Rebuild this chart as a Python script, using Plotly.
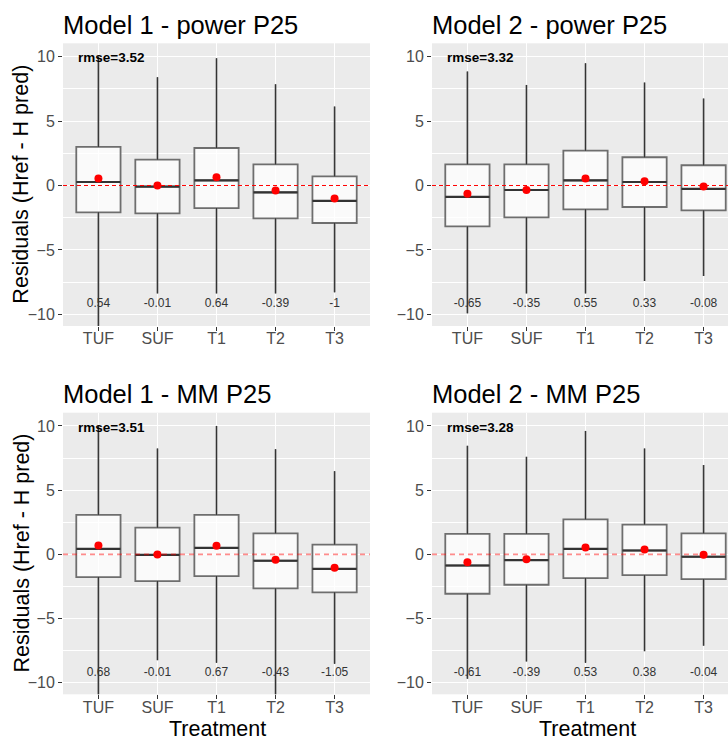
import plotly.graph_objects as go

# ---- data ------------------------------------------------------------------
treatments = ["TUF", "SUF", "T1", "T2", "T3"]

# Model 1 - power P25
m1_pow_hi = [10.0, 8.40, 9.87, 7.85, 6.12]
m1_pow_q3 = [2.99, 2.01, 2.91, 1.64, 0.71]
m1_pow_med = [0.27, -0.09, 0.40, -0.53, -1.20]
m1_pow_q1 = [-2.08, -2.16, -1.75, -2.55, -2.91]
m1_pow_lo = [-11.6, -8.37, -8.37, -8.37, -8.29]
m1_pow_mean = [0.54, -0.01, 0.64, -0.39, -1]
m1_pow_rmse = 3.52

# Model 2 - power P25
m2_pow_hi = [8.84, 7.80, 9.48, 7.98, 6.74]
m2_pow_q3 = [1.64, 1.64, 2.70, 2.19, 1.57]
m2_pow_med = [-0.89, -0.35, 0.40, 0.27, -0.27]
m2_pow_q1 = [-3.17, -2.47, -1.85, -1.67, -1.93]
m2_pow_lo = [-9.92, -8.37, -8.37, -7.41, -7.02]
m2_pow_mean = [-0.65, -0.35, 0.55, 0.33, -0.08]
m2_pow_rmse = 3.32

# Model 1 - MM P25
m1_mm_hi = [10.0, 8.24, 10.0, 8.19, 6.48]
m1_mm_q3 = [3.07, 2.08, 3.07, 1.64, 0.76]
m1_mm_med = [0.43, -0.04, 0.50, -0.50, -1.13]
m1_mm_q1 = [-1.77, -2.08, -1.69, -2.65, -2.96]
m1_mm_lo = [-11.6, -8.24, -8.45, -11.4, -8.53]
m1_mm_mean = [0.68, -0.01, 0.67, -0.43, -1.05]
m1_mm_rmse = 3.51

# Model 2 - MM P25
m2_mm_hi = [8.45, 7.59, 9.61, 8.24, 6.95]
m2_mm_q3 = [1.59, 1.59, 2.73, 2.32, 1.64]
m2_mm_med = [-0.87, -0.45, 0.43, 0.30, -0.19]
m2_mm_q1 = [-3.07, -2.37, -1.85, -1.62, -1.93]
m2_mm_lo = [-9.69, -8.34, -8.45, -7.54, -7.11]
m2_mm_mean = [-0.61, -0.39, 0.53, 0.38, -0.04]
m2_mm_rmse = 3.28

# ---- layout helpers (pixel geometry of the 728x738 page) -------------------
W, H = 728, 738
FONT = "Arial, Liberation Sans, sans-serif"
BOX_W = 0.75
pos = [1, 2, 3, 4, 5]


def px_x(p):
    return p / W


def px_y(p):
    return 1 - p / H


panels = [
    dict(title="Model 1 - power P25", hi=m1_pow_hi, q3=m1_pow_q3, med=m1_pow_med, q1=m1_pow_q1,
         lo=m1_pow_lo, mean=m1_pow_mean, rmse=m1_pow_rmse, left=63, right=370, top=43.3, bottom=326,
         title_y=24.5, zero=dict(color="red", width=1, dash="4px,3px")),
    dict(title="Model 2 - power P25", hi=m2_pow_hi, q3=m2_pow_q3, med=m2_pow_med, q1=m2_pow_q1,
         lo=m2_pow_lo, mean=m2_pow_mean, rmse=m2_pow_rmse, left=432, right=739, top=43.3, bottom=326,
         title_y=24.5, zero=dict(color="red", width=1, dash="4px,3px")),
    dict(title="Model 1 - MM P25", hi=m1_mm_hi, q3=m1_mm_q3, med=m1_mm_med, q1=m1_mm_q1,
         lo=m1_mm_lo, mean=m1_mm_mean, rmse=m1_mm_rmse, left=63, right=370, top=412.7, bottom=694.3,
         title_y=393.7, zero=dict(color="rgba(255,0,0,0.45)", width=1.8, dash="5px,4px")),
    dict(title="Model 2 - MM P25", hi=m2_mm_hi, q3=m2_mm_q3, med=m2_mm_med, q1=m2_mm_q1,
         lo=m2_mm_lo, mean=m2_mm_mean, rmse=m2_mm_rmse, left=432, right=739, top=412.7, bottom=694.3,
         title_y=393.7, zero=dict(color="rgba(255,0,0,0.45)", width=1.8, dash="5px,4px")),
]

fig = go.Figure()
annotations = []
shapes = []
unit = (370 - 63) / 5.2  # px per category step

for i, p in enumerate(panels):
    sfx = "" if i == 0 else str(i + 1)
    xa, ya = "x" + sfx, "y" + sfx

    fig.add_trace(go.Box(
        x=pos, q1=p["q1"], median=p["med"], q3=p["q3"],
        lowerfence=p["lo"], upperfence=p["hi"],
        width=BOX_W, whiskerwidth=0, boxpoints=False,
        fillcolor="rgba(255,255,255,0.72)",
        line=dict(color="#6E6E6E", width=1.8),
        hoverinfo="skip", showlegend=False, xaxis=xa, yaxis=ya,
    ))

    # whiskers (darker, thinner than the box outline)
    wx, wy = [], []
    for k in range(len(pos)):
        wx += [pos[k], pos[k], None, pos[k], pos[k], None]
        wy += [p["hi"][k], p["q3"][k], None, p["q1"][k], p["lo"][k], None]
    fig.add_trace(go.Scatter(x=wx, y=wy, mode="lines", line=dict(color="#333333", width=1),
                             hoverinfo="skip", showlegend=False, xaxis=xa, yaxis=ya))

    # medians
    mx, my = [], []
    for k in range(len(pos)):
        mx += [pos[k] - BOX_W / 2, pos[k] + BOX_W / 2, None]
        my += [p["med"][k], p["med"][k], None]
    fig.add_trace(go.Scatter(x=mx, y=my, mode="lines", line=dict(color="#333333", width=2.2),
                             hoverinfo="skip", showlegend=False, xaxis=xa, yaxis=ya))

    # means
    fig.add_trace(go.Scatter(x=pos, y=p["mean"], mode="markers",
                             marker=dict(color="red", size=8),
                             hoverinfo="skip", showlegend=False, xaxis=xa, yaxis=ya))

    # mean labels
    fig.add_trace(go.Scatter(x=pos, y=[-9.22] * len(pos), mode="text",
                             text=["{:g}".format(v) for v in p["mean"]],
                             textfont=dict(family=FONT, size=12, color="#333333"),
                             hoverinfo="skip", showlegend=False, xaxis=xa, yaxis=ya))

    right = min(p["right"], W)
    x_hi = 0.4 + (right - p["left"]) / unit
    fig.layout["xaxis" + sfx] = dict(
        domain=[px_x(p["left"]), px_x(right)], range=[0.4, x_hi], anchor=ya,
        tickvals=pos, ticktext=treatments,
        showgrid=True, gridcolor="white", gridwidth=1.1, zeroline=False, showline=False,
        ticks="outside", ticklen=4, tickcolor="#333333", ticklabelstandoff=-6,
        tickfont=dict(family=FONT, size=16, color="#4D4D4D"),
    )
    fig.layout["yaxis" + sfx] = dict(
        domain=[px_y(p["bottom"]), px_y(p["top"])], range=[-10.9, 11.03], anchor=xa,
        tickvals=[-10, -5, 0, 5, 10],
        showgrid=True, gridcolor="white", gridwidth=1.1, zeroline=False, showline=False,
        ticks="outside", ticklen=4, tickcolor="#333333",
        tickfont=dict(family=FONT, size=16, color="#4D4D4D"),
        minor=dict(tickvals=[-7.5, -2.5, 2.5, 7.5], showgrid=True, gridcolor="white",
                   gridwidth=0.5, ticks=""),
    )

    shapes.append(dict(type="line", xref=xa + " domain", yref=ya, x0=0, x1=1, y0=0, y1=0,
                       line=p["zero"], layer="above"))

    annotations.append(dict(text="<b>rmse=%.2f</b>" % p["rmse"], xref=xa, yref=ya,
                            x=0.62, y=9.9, xanchor="left", yanchor="middle", showarrow=False,
                            font=dict(family=FONT, size=13.5, color="black")))
    annotations.append(dict(text=p["title"], xref="paper", yref="paper",
                            x=px_x(p["left"] - 2), y=px_y(p["title_y"]), xanchor="left",
                            yanchor="middle", showarrow=False,
                            font=dict(family=FONT, size=25.5, color="black")))

# axis titles
for cy in [(43.3 + 326) / 2, (412.7 + 694.3) / 2]:
    annotations.append(dict(text="Residuals (Href - H pred)", xref="paper", yref="paper",
                            x=px_x(21), y=px_y(cy), xanchor="center", yanchor="middle",
                            textangle=-90, showarrow=False,
                            font=dict(family=FONT, size=21.5, color="black")))
for cx in [217, 587]:
    annotations.append(dict(text="Treatment", xref="paper", yref="paper",
                            x=px_x(cx), y=px_y(729), xanchor="center", yanchor="middle",
                            showarrow=False, font=dict(family=FONT, size=21.5, color="black")))

fig.update_layout(
    width=W, height=H,
    margin=dict(l=0, r=0, t=0, b=0),
    paper_bgcolor="white",
    plot_bgcolor="#EBEBEB",
    annotations=annotations,
    shapes=shapes,
    font=dict(family=FONT),
)

# drop the default page margin so the figure sits at the window's top-left corner
fig.write_html("out.html", config={"displayModeBar": False},
               post_script="document.body.style.margin='0px';")
